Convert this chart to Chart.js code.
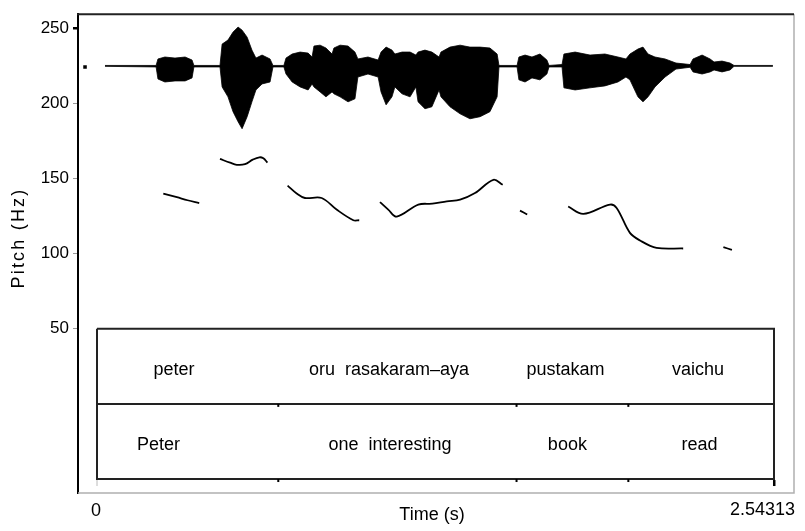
<!DOCTYPE html>
<html><head><meta charset="utf-8">
<script src="https://cdn.jsdelivr.net/npm/chart.js@4.4.0/dist/chart.umd.min.js"></script>
<style>html,body{margin:0;padding:0;background:#fff}#c{display:block}</style>
</head><body>
<canvas id="c" width="805" height="531"></canvas>
<script>
// ---- data ----
const yTicks = [50, 100, 150, 200, 250];
const xTickValues = [0, 2.54313];
const xTickLabels = ["0", "2.54313"];

// waveform envelope (drawn in Hz units of the plot)
const waveTime = [0.030,0.222,0.229,0.255,0.293,0.331,0.357,0.364,0.462,0.470,0.492,0.511,0.530,0.545,0.564,0.582,0.597,0.620,0.650,0.661,0.702,0.710,0.733,0.763,0.793,0.808,0.815,0.838,0.860,0.883,0.890,0.913,0.943,0.969,0.980,1.018,1.056,1.067,1.086,1.108,1.119,1.146,1.176,1.198,1.206,1.232,1.258,1.285,1.292,1.326,1.364,1.401,1.439,1.476,1.503,1.510,1.578,1.585,1.608,1.634,1.664,1.690,1.698,1.747,1.754,1.796,1.852,1.908,1.957,1.987,2.002,2.032,2.051,2.070,2.096,2.134,2.175,2.228,2.239,2.273,2.303,2.318,2.348,2.378,2.393,2.539];
const waveTop = [225.2,225.2,229.5,230.8,230.1,230.8,228.8,225.2,225.2,239.4,242.1,247.4,250.7,248.7,244.0,235.4,230.1,232.1,229.5,225.2,225.2,230.1,232.8,234.1,233.4,230.8,238.1,238.7,236.8,232.8,236.8,238.7,238.1,234.1,229.5,230.8,228.8,234.1,237.4,235.4,232.8,234.1,234.1,232.1,234.1,235.4,234.1,230.8,234.1,237.4,238.7,237.4,237.4,236.8,232.8,225.2,225.2,230.8,232.1,230.8,232.8,228.8,225.2,225.8,232.8,234.1,232.1,232.8,230.8,229.5,232.8,236.1,237.4,232.8,230.8,229.5,226.8,225.8,229.5,232.1,229.5,227.5,228.1,226.8,225.2,225.2];
const waveBottom = [224.6,224.2,216.2,214.2,214.9,214.9,216.9,224.2,224.2,210.9,204.3,194.4,187.7,183.1,191.1,201.0,208.9,212.9,214.2,224.2,224.2,219.5,214.2,210.9,208.9,212.9,210.9,207.6,204.3,207.6,206.3,204.3,201.0,203.0,217.5,219.5,217.5,207.6,199.0,204.3,210.9,206.3,204.3,210.9,201.0,196.4,197.7,208.9,204.3,197.7,193.0,189.7,191.1,194.4,204.3,224.2,224.2,215.6,214.2,216.9,215.6,219.5,224.2,224.2,210.3,208.9,210.3,211.6,214.2,217.5,215.6,204.3,201.0,204.3,210.9,217.5,222.8,224.0,220.9,219.5,220.9,222.2,220.9,222.2,224.6,224.6];
const waveStartTime = [-0.045];
const waveStartValue = [224.2];

// pitch contour (null = unvoiced gap)
const pitchTime = [0.249,0.300,0.340,0.384, 0.42, 0.462,0.500,0.525,0.556,0.585,0.610,0.625,0.640, 0.68, 0.716,0.750,0.781,0.844,0.900,0.963,0.985, 1.02, 1.063,1.094,1.126,1.207,1.260,1.314,1.364,1.420,1.489,1.524, 1.55, 1.589,1.616, 1.70, 1.770,1.827,1.927,1.952,2.002,2.040,2.102,2.202, 2.28, 2.353,2.385];
const pitchHz   = [139.9,137.5,135.5,133.6, null, 163.0,160.5,159.1,159.5,162.5,164.1,163.4,160.6, null, 145.2,140.0,137.0,137.0,129.3,122.2,122.2, null, 134.3,129.3,124.6,132.6,133.2,134.8,135.9,140.3,149.1,145.8, null, 128.6,126.0, null, 131.3,126.4,132.6,130.4,113.8,108.7,103.8,103.4, null, 104.3,102.5];

// text grid
const tierLevels = [50, 0, -50];
const gridStart = 0, gridEnd = 2.54313;
const boundaries = [0.681, 1.576, 1.996];
const tier1Labels = ["peter", "oru  rasakaram\u2013aya", "pustakam", "vaichu"];
const tier1Times  = [0.289, 1.097, 1.760, 2.258];
const tier2Labels = ["Peter", "one  interesting", "book", "read"];
const tier2Times  = [0.231, 1.101, 1.767, 2.263];

const FONT = "'Liberation Sans', Arial, Helvetica, sans-serif";

const toXY = (xs, ys) => xs.map((x, i) => ({x: x, y: ys[i]}));

const overlay = {
  id: 'overlay',
  afterDraw(chart) {
    const ctx = chart.ctx, a = chart.chartArea;
    const xs = chart.scales.x, ys = chart.scales.y;
    ctx.save();
    // frame
    ctx.strokeStyle = '#b0b0b0'; ctx.lineWidth = 1.5;
    ctx.beginPath();
    ctx.moveTo(a.right, a.top); ctx.lineTo(a.right, a.bottom); ctx.lineTo(a.left, a.bottom);
    ctx.stroke();
    ctx.strokeStyle = '#222'; ctx.lineWidth = 2;
    ctx.beginPath(); ctx.moveTo(a.left - 1, a.top); ctx.lineTo(a.right, a.top); ctx.stroke();

    // boundary tick marks on the text grid
    ctx.fillStyle = '#000';
    const yMid = ys.getPixelForValue(tierLevels[1]);
    const yBot = ys.getPixelForValue(tierLevels[2]);
    boundaries.forEach(b => {
      const px = xs.getPixelForValue(b);
      ctx.fillRect(px - 1, yMid, 2, 3);
      ctx.fillRect(px - 1, yBot, 2, 3);
    });
    const pxEnd = xs.getPixelForValue(gridEnd);
    ctx.fillRect(pxEnd - 1, yBot + 1, 2.5, 6);
    ctx.fillStyle = '#bbb';
    ctx.fillRect(xs.getPixelForValue(gridStart) - 0.5, yBot + 1, 1, 6);

    // text grid labels
    ctx.fillStyle = '#000';
    ctx.font = '18px ' + FONT;
    ctx.textAlign = 'center'; ctx.textBaseline = 'alphabetic';
    tier1Labels.forEach((t, i) => ctx.fillText(t, xs.getPixelForValue(tier1Times[i]), 375));
    tier2Labels.forEach((t, i) => ctx.fillText(t, xs.getPixelForValue(tier2Times[i]), 450));

    // x tick labels
    ctx.font = '18px ' + FONT;
    ctx.textAlign = 'center';
    ctx.fillText(xTickLabels[0], xs.getPixelForValue(xTickValues[0]) - 1, 516);
    ctx.textAlign = 'right';
    ctx.fillText(xTickLabels[1], 795, 515);

    // axis titles
    ctx.textAlign = 'center';
    ctx.fillText('Time (s)', 432, 520);
    ctx.translate(19, 238);
    ctx.rotate(-Math.PI / 2);
    ctx.textBaseline = 'middle';
    try { ctx.letterSpacing = '2.2px'; } catch (e) {}
    ctx.fillText('Pitch (Hz)', 0, 0);
    ctx.restore();
  }
};

new Chart(document.getElementById('c'), {
  type: 'line',
  data: {
    datasets: [
      { data: toXY(waveTime, waveTop), borderColor: '#000', backgroundColor: '#000', borderWidth: 0.8, pointRadius: 0, fill: '+1', tension: 0 },
      { data: toXY(waveTime, waveBottom), borderColor: '#000', borderWidth: 0.8, pointRadius: 0, fill: false, tension: 0 },
      { data: toXY(waveStartTime, waveStartValue), showLine: false, pointStyle: 'rect', pointRadius: 2.5, backgroundColor: '#000', borderColor: '#000', borderWidth: 0 },
      { data: toXY(pitchTime, pitchHz), borderColor: '#000', borderWidth: 1.8, pointRadius: 0, fill: false, tension: 0.35, spanGaps: false },
      { data: [
          {x: gridStart, y: tierLevels[0]}, {x: gridEnd, y: tierLevels[0]},
          {x: gridEnd, y: tierLevels[2]}, {x: gridStart, y: tierLevels[2]},
          {x: gridStart, y: tierLevels[0]}
        ], borderColor: '#222', borderWidth: 2, pointRadius: 0, fill: false, tension: 0 },
      { data: [{x: gridStart, y: tierLevels[1]}, {x: gridEnd, y: tierLevels[1]}], borderColor: '#222', borderWidth: 2, pointRadius: 0, fill: false, tension: 0 }
    ]
  },
  options: {
    responsive: false,
    devicePixelRatio: 1,
    animation: false,
    layout: { padding: { left: 0, top: 12, right: 11, bottom: 38 } },
    plugins: { legend: { display: false }, tooltip: { enabled: false } },
    scales: {
      x: { type: 'linear', min: -0.0714, max: 2.6183, display: false },
      y: {
        type: 'linear', min: -59.3, max: 259.3,
        afterBuildTicks: s => { s.ticks = yTicks.map(v => ({ value: v })); },
        afterFit: s => { s.width = 78; },
        ticks: { font: { family: FONT, size: 17 }, color: '#000', padding: 4 },
        grid: { drawOnChartArea: false, tickLength: 5, lineWidth: c => (c.tick && c.tick.value === 250 ? 2.5 : 1), color: c => (c.tick && c.tick.value === 250 ? '#000' : '#999') },
        border: { color: '#000', width: 2 }
      }
    }
  },
  plugins: [overlay]
});
</script>
</body></html>
